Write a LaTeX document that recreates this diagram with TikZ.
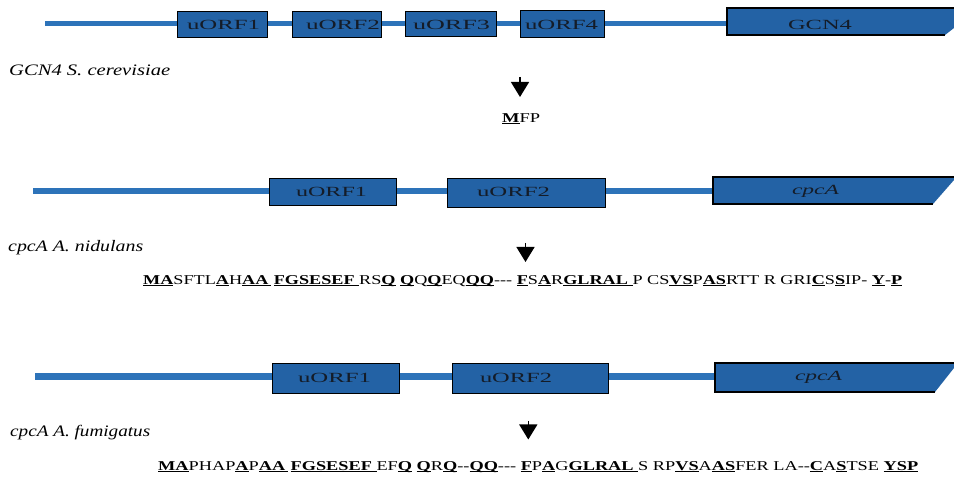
\documentclass[tikz,border=0pt]{standalone}
\usepackage{fontspec}
\setmainfont{Liberation Serif}
\usepackage{graphicx}
\usetikzlibrary{arrows.meta}
\definecolor{boxblue}{RGB}{35,98,165}
\definecolor{lineblue}{RGB}{45,115,185}
\definecolor{boxtext}{RGB}{20,28,40}
\newsavebox\bubox
\newcommand\bu[1]{\sbox\bubox{\textbf{#1}}\rlap{\rule[-1.8pt]{\wd\bubox}{1pt}}\usebox\bubox}
\newcommand\fitw[2]{\resizebox{#1}{\height}{#2}}
\begin{document}
\begin{tikzpicture}[x=1pt,y=-1pt,
  orf/.style={draw=black,line width=1.4pt,fill=boxblue,inner sep=0pt},
  orftxt/.style={text=boxtext,inner sep=0pt,font=\fontsize{14pt}{16pt}\selectfont},
  genetxt/.style={text=boxtext,inner sep=0pt,anchor=base,font=\fontsize{14pt}{16pt}\selectfont\itshape},
  dna/.style={lineblue,line width=#1},
  geneedge/.style={draw=black,line width=2pt},
  lbl/.style={anchor=base west,inner sep=0pt,font=\fontsize{16pt}{18pt}\selectfont\itshape},
  seq/.style={anchor=base west,inner sep=0pt,font=\fontsize{13.5pt}{15pt}\selectfont},
  pointer/.style={line width=1.4pt,-{Triangle[width=18pt,length=15pt]}}]
\useasboundingbox (0,0) rectangle (954,478);
\fill[white] (0,0) rectangle (954,478);

% ---------- Row 1: GCN4 S. cerevisiae ----------
\coordinate (s1) at (45,23.5);
\coordinate (g1w) at (727,23.5);
\draw[dna=5pt] (s1) -- (g1w);
\node[orf,minimum width=90pt,minimum height=26pt] (a1) at (222.5,24.5) {};
\node[orf,minimum width=89pt,minimum height=26pt] (a2) at (337,24.5) {};
\node[orf,minimum width=91pt,minimum height=25pt] (a3) at (451,24) {};
\node[orf,minimum width=84pt,minimum height=27pt] (a4) at (562.5,24) {};
\fill[boxblue] (727,8) -- (954,8) -- (954,28) -- (945,35) -- (727,35) -- cycle;
\draw[geneedge] (945,35) -- (727,35) -- (727,8) -- (954,8);
\node[orftxt] (a1t) at (223.5,24.8) {\fitw{73pt}{uORF1}};
\node[orftxt] (a2t) at (343,24.8) {\fitw{74pt}{uORF2}};
\node[orftxt] (a3t) at (451.5,24.8) {\fitw{77pt}{uORF3}};
\node[orftxt] (a4t) at (561.5,24.8) {\fitw{73pt}{uORF4}};
\node[orftxt] (g1t) at (820,25) {\fitw{64pt}{GCN4}};
\node[lbl] (l1) at (9,76) {\fitw{161pt}{GCN4 S. cerevisiae}};
\coordinate (p1a) at (520,77);
\coordinate (p1b) at (520,97);
\draw[pointer] (p1a) -- (p1b);
\node[seq] (m1) at (502,122.5) {\fitw{38pt}{\bu{M}FP}};

% ---------- Row 2: cpcA A. nidulans ----------
\coordinate (s2) at (33,191);
\coordinate (g2w) at (713,191);
\draw[dna=6.5pt] (s2) -- (g2w);
\node[orf,minimum width=127pt,minimum height=27pt] (b1) at (333,192) {};
\node[orf,minimum width=158pt,minimum height=29pt] (b2) at (526.5,193) {};
\fill[boxblue] (713,177) -- (954,177) -- (954,180) -- (933,204) -- (713,204) -- cycle;
\draw[geneedge] (933,204) -- (713,204) -- (713,177) -- (954,177);
\node[orftxt] (b1t) at (331.5,191.7) {\fitw{71pt}{uORF1}};
\node[orftxt] (b2t) at (513.5,192) {\fitw{73pt}{uORF2}};
\node[genetxt] (g2t) at (815.5,195) {\fitw{47pt}{cpcA}};
\node[lbl] (l2) at (8,251.7) {\fitw{135pt}{cpcA A. nidulans}};
\coordinate (p2a) at (525.5,243);
\coordinate (p2b) at (525.5,262);
\draw[pointer] (p2a) -- (p2b);
\node[seq] (m2) at (143,284.5) {\fitw{759pt}{\bu{MA}SFTL\bu{A}H\bu{AA\kern2pt}\kern2pt\bu{FGSESEF\ }RS\bu{Q} \bu{Q}Q\bu{Q}EQ\bu{QQ}-{}-{}- \bu{F}S\bu{A}R\bu{GLRAL\ }P CS\bu{VS}P\bu{AS}RTT R GRI\bu{C}S\bu{S}IP- \bu{Y}-\bu{P}}};

% ---------- Row 3: cpcA A. fumigatus ----------
\coordinate (s3) at (35,377);
\coordinate (g3w) at (715,377);
\draw[dna=7pt] (s3) -- (g3w);
\node[orf,minimum width=127pt,minimum height=30pt] (c1) at (336,378.5) {};
\node[orf,minimum width=156pt,minimum height=30pt] (c2) at (530.5,378.5) {};
\fill[boxblue] (715,363) -- (954,363) -- (954,368) -- (935,392) -- (715,392) -- cycle;
\draw[geneedge] (935,392) -- (715,392) -- (715,363) -- (954,363);
\node[orftxt] (c1t) at (334.5,377.5) {\fitw{73pt}{uORF1}};
\node[orftxt] (c2t) at (516,377.5) {\fitw{72pt}{uORF2}};
\node[genetxt] (g3t) at (818.5,381) {\fitw{47pt}{cpcA}};
\node[lbl] (l3) at (10,437) {\fitw{140pt}{cpcA A. fumigatus}};
\coordinate (p3a) at (528.3,421);
\coordinate (p3b) at (528.3,439.5);
\draw[pointer] (p3a) -- (p3b);
\node[seq] (m3) at (158,470.5) {\fitw{760pt}{\bu{MA}PHAP\bu{A}P\bu{AA\kern2pt}\kern2pt\bu{FGSESEF\ }EF\bu{Q} \bu{Q}R\bu{Q}-{}-\bu{QQ}-{}-{}- \bu{F}P\bu{A}G\bu{GLRAL\ }S RP\bu{VS}A\bu{AS}FER LA-{}-\bu{C}A\bu{S}TSE \bu{YSP}}};
\end{tikzpicture}
\end{document}
